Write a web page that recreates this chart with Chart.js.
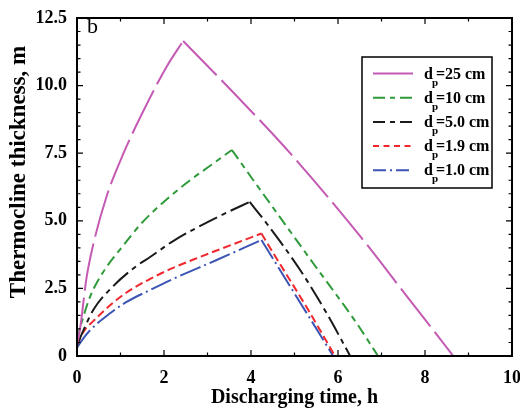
<!DOCTYPE html>
<html>
<head>
<meta charset="utf-8">
<script src="https://cdn.jsdelivr.net/npm/chart.js@4.4.1/dist/chart.umd.min.js"></script>
<style>
  html, body { margin: 0; padding: 0; background: #fff; }
  #wrap { width: 520px; height: 411px; }
</style>
</head>
<body>
<div id="wrap"><canvas id="thermoChart" width="520" height="411"></canvas></div>
<script>
// discharging time (h) and thermocline thickness (m)
const time25 = [0, 0.07, 0.22, 0.37, 0.68, 1.07, 1.6, 2.06, 2.44, 3.5, 4.9, 6.5, 7.54, 8.65];
const thick25 = [0.4, 1.0, 2.9, 4.1, 5.9, 7.5, 9.3, 10.7, 11.65, 9.9, 7.5, 4.45, 2.3, 0];

const time10 = [0, 0.1, 0.3, 0.6, 1.07, 1.45, 1.98, 2.6, 3.1, 3.56, 4.05, 5.43, 6.43, 6.92];
const thick10 = [0.6, 1.2, 2.19, 3.1, 4.1, 4.85, 5.68, 6.5, 7.08, 7.62, 6.51, 3.43, 1.21, 0];

const time50 = [0, 0.15, 0.38, 0.83, 1.37, 1.68, 2.21, 3.21, 3.97, 4.36, 5.13, 5.74, 6.28];
const thick50 = [0.4, 0.96, 1.72, 2.58, 3.33, 3.66, 4.25, 5.12, 5.7, 4.9, 3.18, 1.58, 0];

const time19 = [0, 0.15, 0.38, 0.83, 1.14, 1.68, 2.14, 2.79, 3.21, 4.24, 4.51, 5.28, 5.93];
const thick19 = [0.4, 0.9, 1.3, 1.97, 2.35, 2.85, 3.21, 3.64, 3.9, 4.53, 3.81, 1.8, 0];

const time10b = [0, 0.1, 0.3, 0.76, 1.14, 1.68, 2.14, 3.21, 4.24, 5.89];
const thick10b = [0.3, 0.55, 0.95, 1.58, 2.0, 2.44, 2.8, 3.55, 4.29, 0];

const sizes = ['25 cm', '10 cm', '5.0 cm', '1.9 cm', '1.0 cm'];
const yTicks = [0, 2.5, 5, 7.5, 10, 12.5];
const xTicks = [0, 2, 4, 6, 8, 10];

const zip = (xs, ys) => xs.map((x, i) => ({ x: x, y: ys[i] }));

const styles = [
  { color: '#c45ab3', dash: [48, 7], key: [40, 0] },
  { color: '#2e9a3a', dash: [11, 5, 6, 5], key: [12, 5, 5, 5] },
  { color: '#1a1a1a', dash: [20, 5, 5, 5], key: [12, 5, 5, 5] },
  { color: '#f0282d', dash: [8, 4], key: [6, 4.5] },
  { color: '#3c55b4', dash: [22, 4, 2, 4], key: [13, 4, 2, 4] }
];
const series = [
  zip(time25, thick25), zip(time10, thick10), zip(time50, thick50),
  zip(time19, thick19), zip(time10b, thick10b)
];

const serif = "'Liberation Serif', 'DejaVu Serif', serif";

// charging curve and discharge line are drawn as two pieces so the peak stays sharp
const datasets = [];
series.forEach((pts, i) => {
  let peak = 0;
  pts.forEach((p, k) => { if (p.y > pts[peak].y) peak = k; });
  [pts.slice(0, peak + 1), pts.slice(peak)].forEach((part) => {
    datasets.push({
      label: 'dp=' + sizes[i],
      data: part,
      borderColor: styles[i].color,
      borderDash: styles[i].dash,
      borderWidth: 2,
      pointRadius: 0,
      fill: false,
      cubicInterpolationMode: 'monotone'
    });
  });
});

const frameAndTicks = {
  id: 'frameAndTicks',
  afterDatasetsDraw(chart) {
    const { ctx, chartArea: a, scales: { x, y } } = chart;
    ctx.save();
    ctx.strokeStyle = '#000';
    ctx.lineWidth = 1.2;
    ctx.beginPath();
    for (let v = 0; v <= 10; v++) {
      const px = x.getPixelForValue(v);
      const len = v % 2 === 0 ? 6 : 3.5;
      ctx.moveTo(px, a.bottom); ctx.lineTo(px, a.bottom - len);
      ctx.moveTo(px, a.top); ctx.lineTo(px, a.top + len);
    }
    for (let i = 0; i <= 25; i++) {
      const py = y.getPixelForValue(i * 0.5);
      const len = i % 5 === 0 ? 6 : 3.5;
      ctx.moveTo(a.left, py); ctx.lineTo(a.left + len, py);
      ctx.moveTo(a.right, py); ctx.lineTo(a.right - len, py);
    }
    ctx.stroke();
    ctx.lineWidth = 2;
    ctx.strokeRect(a.left, a.top, a.right - a.left, a.bottom - a.top);

    // panel letter
    ctx.fillStyle = '#000';
    ctx.font = '22px ' + serif;
    ctx.textAlign = 'left';
    ctx.textBaseline = 'alphabetic';
    ctx.fillText('b', a.left + 10, a.top + 15);

    // axis titles
    ctx.font = 'bold 20px ' + serif;
    ctx.textAlign = 'center';
    ctx.textBaseline = 'middle';
    ctx.fillText('Discharging time, h', (a.left + a.right) / 2, 398);
    ctx.save();
    ctx.translate(19, 172);
    ctx.rotate(-Math.PI / 2);
    ctx.font = 'bold 23px ' + serif;
    ctx.fillText('Thermocline thickness, m', 0, 0);
    ctx.restore();

    // legend box
    const bx = 362, by = 57, bw = 130, bh = 131;
    ctx.fillStyle = '#fff';
    ctx.fillRect(bx, by, bw, bh);
    ctx.lineWidth = 1.5;
    ctx.strokeStyle = '#000';
    ctx.strokeRect(bx, by, bw, bh);
    sizes.forEach((s, i) => {
      const ly = 73.5 + i * 24.2;
      ctx.strokeStyle = styles[i].color;
      ctx.lineWidth = 2;
      ctx.setLineDash(styles[i].key);
      ctx.beginPath();
      ctx.moveTo(373, ly); ctx.lineTo(413, ly);
      ctx.stroke();
      ctx.setLineDash([]);
      ctx.fillStyle = '#000';
      ctx.textAlign = 'left';
      ctx.textBaseline = 'alphabetic';
      ctx.font = 'bold 16px ' + serif;
      ctx.fillText('d', 424, ly + 5);
      const dw = ctx.measureText('d').width;
      ctx.font = 'bold 11px ' + serif;
      ctx.fillText('p', 424 + dw - 1, ly + 12);
      ctx.font = 'bold 16px ' + serif;
      ctx.fillText('=' + s, 424 + dw + 3, ly + 5);
    });
    ctx.restore();
  }
};

const ctx = document.getElementById('thermoChart').getContext('2d');
const thermoChart = new Chart(ctx, {
  type: 'line',
  data: { datasets: datasets },
  options: {
    responsive: false,
    animation: false,
    layout: { autoPadding: false, padding: { left: 0, right: 8, top: 18, bottom: 0 } },
    plugins: { legend: { display: false }, tooltip: { enabled: false } },
    scales: {
      x: {
        type: 'linear', min: 0, max: 10,
        grid: { display: false, drawTicks: false },
        border: { display: false },
        afterFit: (s) => { s.height = 55; s.paddingLeft = 0; s.paddingRight = 0; },
        afterBuildTicks: (s) => { s.ticks = xTicks.map(v => ({ value: v })); },
        ticks: {
          padding: 12, color: '#000', maxRotation: 0,
          font: { family: serif, size: 18, weight: 'bold' },
          callback: (v) => String(v)
        }
      },
      y: {
        type: 'linear', min: 0, max: 12.5,
        grid: { display: false, drawTicks: false },
        border: { display: false },
        afterFit: (s) => { s.width = 77; s.paddingTop = 0; s.paddingBottom = 0; },
        afterBuildTicks: (s) => { s.ticks = yTicks.map(v => ({ value: v })); },
        ticks: {
          padding: 10, color: '#000',
          font: { family: serif, size: 18, weight: 'bold' },
          callback: (v) => v === 0 ? '0' : v.toFixed(1)
        }
      }
    }
  },
  plugins: [frameAndTicks]
});
</script>
</body>
</html>
